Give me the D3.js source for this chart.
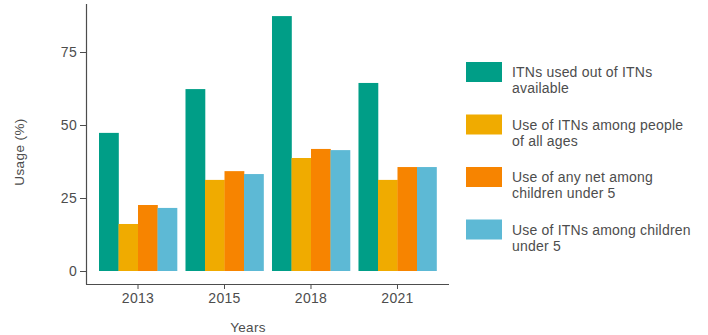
<!DOCTYPE html>
<html><head><meta charset="utf-8">
<script src="https://cdn.jsdelivr.net/npm/d3@7"></script>
<style>body{margin:0;background:#fff}text{font-family:"Liberation Sans",Arial,sans-serif}</style>
</head><body><svg id="c" width="708" height="335"></svg>
<script>
const years = ["2013","2015","2018","2021"];
const seriesNames = ["ITNs used out of ITNs available","Use of ITNs among people of all ages","Use of any net among children under 5","Use of ITNs among children under 5"];
const legendLines = [["ITNs used out of ITNs","available"],["Use of ITNs among people","of all ages"],["Use of any net among","children under 5"],["Use of ITNs among children","under 5"]];
const itnsUsedOfAvailable = [47.3, 62.3, 87.3, 64.4];
const itnsAllAges = [16.1, 31.2, 38.7, 31.2];
const anyNetUnder5 = [22.6, 34.2, 41.8, 35.6];
const itnsUnder5 = [21.6, 33.2, 41.4, 35.6];
const yTicks = [0, 25, 50, 75];
const colors = ["#009E87","#F0AB00","#F78400","#5DB9D5"];

const values = [itnsUsedOfAvailable, itnsAllAges, anyNetUnder5, itnsUnder5];
const svg = d3.select("#c");
const txt = "#4d4d4d";

const x = d3.scaleBand().domain(years).range([99, 436.5]).paddingInner(0.098).paddingOuter(0);
const xs = d3.scaleBand().domain(d3.range(4)).range([0, x.bandwidth()]);
const y = d3.scaleLinear().domain([0, 75]).range([271, 52]);

const g = svg.append("g");
years.forEach((yr, i) => {
  values.forEach((s, j) => {
    g.append("rect")
      .attr("x", x(yr) + xs(j))
      .attr("width", xs.bandwidth() + 0.3)
      .attr("y", y(s[i]))
      .attr("height", y(0) - y(s[i]))
      .attr("fill", colors[j]);
  });
});

// y axis
const ya = svg.append("g").attr("transform", "translate(86,0)")
  .call(d3.axisLeft(y).tickValues(yTicks).tickSize(6).tickPadding(3));
ya.select(".domain").attr("d", "M0.5,4V284.5");
// x axis
const xa = svg.append("g").attr("transform", "translate(0,284)")
  .call(d3.axisBottom(x).tickSize(5).tickPadding(4));
xa.select(".domain").attr("d", "M86,0.5H449");
svg.selectAll(".tick text").attr("font-size", 14).attr("letter-spacing", 0.3).attr("fill", txt).attr("font-family", "Liberation Sans, Arial, sans-serif");
svg.selectAll(".tick line").attr("stroke", "#4d4d4d");
svg.selectAll(".domain").attr("stroke", "#4d4d4d").attr("stroke-width", 1.2);

svg.append("text").attr("x", 248).attr("y", 332).attr("text-anchor", "middle")
  .attr("font-size", 13.5).attr("letter-spacing", 0.3).attr("fill", txt).text("Years");
svg.append("text").attr("transform", "translate(24,152) rotate(-90)").attr("text-anchor", "middle")
  .attr("font-size", 13.5).attr("letter-spacing", 0.4).attr("fill", txt).text("Usage (%)");

// legend
const lg = svg.append("g").attr("transform", "translate(466,62)");
legendLines.forEach((lines, i) => {
  const row = lg.append("g").attr("transform", `translate(0,${i * 52.5})`);
  row.append("rect").attr("width", 36).attr("height", 20).attr("fill", colors[i]);
  lines.forEach((l, k) => {
    row.append("text").attr("x", 46).attr("y", 15 + k * 16)
      .attr("font-size", 14).attr("letter-spacing", 0.2).attr("fill", txt).text(l);
  });
});
</script></body></html>
